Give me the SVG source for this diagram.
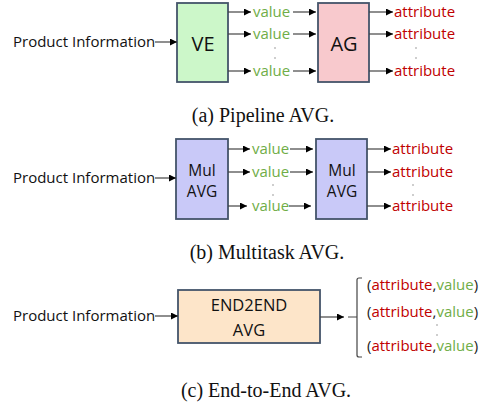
<svg xmlns="http://www.w3.org/2000/svg" width="487" height="405" viewBox="0 0 487 405">
<defs>
<marker id="ah" viewBox="0 0 10 10" refX="10" refY="5" markerWidth="8" markerHeight="7" markerUnits="userSpaceOnUse" orient="auto">
<path d="M0,0 L10,5 L0,10 z" fill="#000"/>
</marker>
</defs>
<style>
.t{font-family:"Open Sans","Liberation Sans",Arial,sans-serif;fill:#111;}
.pi{font-size:15px;}
.v{fill:#70ad47;font-size:15px;}
.a{fill:#c00000;font-size:15px;}
.box{stroke:#44546a;stroke-width:1.8;}
.cap{font-family:"Liberation Serif","Times New Roman",serif;font-size:20px;fill:#111;text-anchor:middle;}
.c line,.c path{stroke:#444;stroke-width:1.2;fill:none;}
.ar{marker-end:url(#ah);}
.dot{fill:#777;}
.bl{font-size:20px;text-anchor:middle;}
.bm{font-size:15.5px;text-anchor:middle;}
</style>
<rect width="487" height="405" fill="#fff"/>

<!-- Panel a -->
<text class="t pi" x="13" y="47">Product Information</text>
<g id="ve"><rect class="box" x="177" y="3" width="51" height="79" fill="#ccf7c9"/><text class="t bl" x="203" y="51">VE</text></g>
<g id="ag"><rect class="box" x="318" y="3" width="51" height="79" fill="#f8c9cd"/><text class="t bl" x="344" y="51">AG</text></g>
<g id="va">
<text class="t v" x="253" y="17">value</text>
<text class="t v" x="253" y="39">value</text>
<text class="t v" x="253" y="76">value</text>
<text class="t a" x="394" y="17">attribute</text>
<text class="t a" x="394" y="39">attribute</text>
<text class="t a" x="394" y="76">attribute</text>
<circle class="dot" cx="275" cy="48" r="0.7"/><circle class="dot" cx="275" cy="58" r="0.7"/>
<circle class="dot" cx="416" cy="48" r="0.7"/><circle class="dot" cx="416" cy="58" r="0.7"/>
</g>
<g class="c">
<line class="ar" x1="155" y1="42" x2="177" y2="42"/>
<line class="ar" x1="228" y1="12" x2="251" y2="12"/>
<line class="ar" x1="228" y1="34" x2="251" y2="34"/>
<line class="ar" x1="228" y1="71" x2="251" y2="71"/>
<line class="ar" x1="293" y1="12" x2="316" y2="12"/>
<line class="ar" x1="293" y1="34" x2="316" y2="34"/>
<line class="ar" x1="293" y1="71" x2="316" y2="71"/>
<line class="ar" x1="369" y1="12" x2="393" y2="12"/>
<line class="ar" x1="369" y1="34" x2="393" y2="34"/>
<line class="ar" x1="369" y1="71" x2="393" y2="71"/>
</g>
<text class="cap" x="263" y="122">(a) Pipeline AVG.</text>

<!-- Panel b -->
<text class="t pi" x="13" y="183">Product Information</text>
<g id="mul1"><rect class="box" x="176" y="139" width="52" height="80" fill="#c9c9f8"/><text class="t bm" x="202" y="176">Mul</text><text class="t bm" x="202" y="197">AVG</text></g>
<g id="mul2"><rect class="box" x="316" y="139" width="51" height="80" fill="#c9c9f8"/><text class="t bm" x="342" y="176">Mul</text><text class="t bm" x="342" y="197">AVG</text></g>
<g id="vb">
<text class="t v" x="252" y="154">value</text>
<text class="t v" x="252" y="177">value</text>
<text class="t v" x="252" y="211">value</text>
<text class="t a" x="392" y="154">attribute</text>
<text class="t a" x="392" y="177">attribute</text>
<text class="t a" x="392" y="211">attribute</text>
<circle class="dot" cx="273" cy="185" r="0.7"/><circle class="dot" cx="273" cy="195" r="0.7"/>
<circle class="dot" cx="413" cy="185" r="0.7"/><circle class="dot" cx="413" cy="195" r="0.7"/>
</g>
<g class="c">
<line class="ar" x1="155" y1="178" x2="176" y2="178"/>
<line class="ar" x1="228" y1="149" x2="250" y2="149"/>
<line class="ar" x1="228" y1="172" x2="250" y2="172"/>
<line class="ar" x1="228" y1="206" x2="247" y2="206"/>
<line class="ar" x1="290" y1="149" x2="313" y2="149"/>
<line class="ar" x1="290" y1="172" x2="313" y2="172"/>
<line class="ar" x1="289" y1="206" x2="311" y2="206"/>
<line class="ar" x1="367" y1="149" x2="391" y2="149"/>
<line class="ar" x1="367" y1="172" x2="391" y2="172"/>
<line class="ar" x1="367" y1="206" x2="391" y2="206"/>
</g>
<text class="cap" x="267" y="259">(b) Multitask AVG.</text>

<!-- Panel c -->
<text class="t pi" x="13" y="321">Product Information</text>
<g id="e2e"><rect class="box" x="178" y="290" width="142" height="53" fill="#fde5c9"/><text class="t" x="249" y="311" font-size="16.5" text-anchor="middle">END2END</text><text class="t" x="249" y="336" font-size="16.5" text-anchor="middle">AVG</text></g>
<g id="pairs" font-family="Open Sans,Liberation Sans,Arial,sans-serif" font-size="15">
<text x="367" y="290"><tspan fill="#222">(</tspan><tspan fill="#c00000">attribute</tspan><tspan fill="#222">,</tspan><tspan fill="#70ad47">value</tspan><tspan fill="#222">)</tspan></text>
<text x="367" y="317"><tspan fill="#222">(</tspan><tspan fill="#c00000">attribute</tspan><tspan fill="#222">,</tspan><tspan fill="#70ad47">value</tspan><tspan fill="#222">)</tspan></text>
<text x="367" y="351"><tspan fill="#222">(</tspan><tspan fill="#c00000">attribute</tspan><tspan fill="#222">,</tspan><tspan fill="#70ad47">value</tspan><tspan fill="#222">)</tspan></text>
<circle class="dot" cx="437" cy="325" r="0.7"/><circle class="dot" cx="437" cy="335" r="0.7"/>
</g>
<g class="c">
<line class="ar" x1="155" y1="316" x2="178" y2="316"/>
<line class="ar" x1="320" y1="317" x2="344" y2="317"/>
<path d="M348,317 H357 M362,278 H359 Q357,278 357,280 V355 Q357,357 359,357 H362"/>
</g>
<text class="cap" x="266" y="397">(c) End-to-End AVG.</text>
</svg>
